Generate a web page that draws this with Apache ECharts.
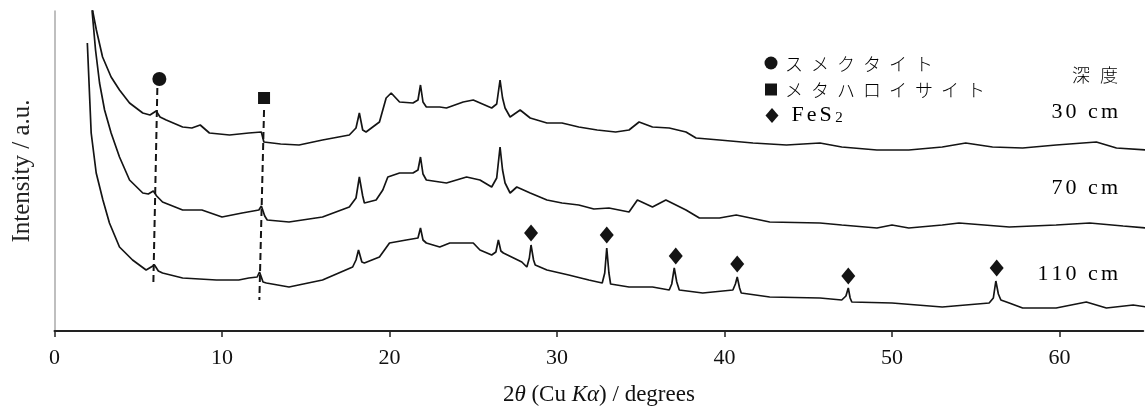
<!DOCTYPE html>
<html>
<head>
<meta charset="utf-8">
<script src="https://cdn.jsdelivr.net/npm/echarts@6/dist/echarts.min.js"></script>
<style>html,body{margin:0;padding:0;background:#fff}#c{width:1147px;height:415px}</style>
</head>
<body>
<div id="c"></div>
<script>
// ---- data (2θ in degrees, intensity in arbitrary offset units) ----
const x30 = [2.2,2.29,2.5,2.87,3.38,3.88,4.48,5.27,5.7,6.07,6.3,6.67,7.65,8.2,8.7,9.25,10.45,11.6,12.35,12.5,13.5,14.6,16.0,17.6,18.0,18.2,18.4,18.6,19.4,19.8,20.1,20.6,21.4,21.7,21.85,22.0,22.2,23.0,23.4,24.4,25.0,26.1,26.4,26.6,26.75,26.9,27.2,27.8,28.4,29.4,30.3,31.3,32.4,33.5,34.3,34.9,35.7,36.7,37.7,38.3,39.7,41.7,43.7,45.7,47.0,49.1,51.0,53.0,54.4,56.0,57.8,59.8,62.2,63.4,65.2];
const y30 = [380,356,338,311,291,278,265,255,253,257,251,248,241,240,243,235,233,235,236,226,224,223,228,233,240,255,238,236,246,270,275,266,265,268,283,266,261,261,260,266,268,260,264,288,270,260,251,258,250,245,245,241,238,236,238,246,241,240,236,230,228,225,223,225,221,218,218,221,225,221,220,223,226,220,218];

const x70 = [2.18,2.25,2.45,2.69,2.99,3.38,3.88,4.48,5.27,5.6,5.9,6.1,6.45,7.65,8.8,10.0,11.2,12.2,12.35,12.55,12.7,14.0,16.0,17.6,18.0,18.2,18.4,18.5,19.2,19.6,19.9,20.6,21.4,21.7,21.85,22.0,22.2,23.0,23.4,24.6,25.4,26.1,26.4,26.6,26.75,26.9,27.2,27.6,28.4,29.4,30.3,31.3,32.2,33.1,34.3,34.8,35.7,36.5,37.7,38.5,39.7,40.7,42.7,45.7,47.0,49.1,50.0,51.0,53.0,54.0,57.0,59.8,61.8,63.8,65.2];
const y70 = [380,356,318,285,258,235,211,188,175,174,177,172,166,158,158,151,155,158,162,152,148,146,151,161,170,191,172,165,168,178,191,195,195,198,211,194,188,186,185,191,188,181,190,221,198,185,175,181,175,168,165,163,159,160,156,168,161,168,158,150,150,153,146,145,143,140,143,140,143,145,141,143,145,142,140];

const x110 = [1.96,2.19,2.49,2.89,3.28,3.88,4.66,5.47,5.97,6.2,6.45,7.65,9.67,11.0,11.6,12.1,12.24,12.45,12.65,14.0,16.0,17.8,18.0,18.15,18.35,18.5,19.4,20.0,21.0,21.7,21.85,22.0,22.2,23.0,23.6,25.0,25.4,26.1,26.35,26.5,26.65,26.8,27.9,28.2,28.35,28.45,28.6,28.7,29.4,30.7,31.9,32.7,32.85,32.97,33.1,33.2,34.3,35.7,36.7,36.85,37.0,37.15,37.3,38.7,40.5,40.65,40.76,40.9,41.0,42.7,45.7,47.0,47.25,47.39,47.5,47.6,50.0,53.0,55.8,56.05,56.2,56.35,56.5,57.0,57.8,59.8,61.6,62.8,64.4,65.2];
const y110 = [325,235,195,168,145,121,108,98,103,97,95,90,88,88,90,91,96,86,85,81,88,101,108,118,106,105,111,125,128,130,140,128,125,121,125,125,118,113,116,128,117,115,106,101,110,123,108,103,98,93,88,85,95,120,95,84,81,81,78,84,100,86,78,75,78,84,91,80,75,71,70,68,72,80,70,66,65,61,65,70,87,74,68,65,60,60,66,60,63,61];

// phase markers
const smectiteMark = [[6.26, 289]];
const metahalloysiteMark = [[12.51, 270]];
const fes2Marks = [[28.45, 135], [32.97, 133], [37.09, 112], [40.76, 104], [47.39, 92], [56.25, 100]];
// dashed guide lines (top, bottom)
const guide1 = [[6.14, 280], [5.90, 83]];
const guide2 = [[12.51, 258], [12.23, 68]];

const xTicks = [0, 10, 20, 30, 40, 50, 60];
const depthLabels = ['30 cm', '70 cm', '110 cm'];
const legendNames = ['スメクタイト', 'メタハロイサイト', 'FeS'];

const zip = (a, b) => a.map((v, i) => [v, b[i]]);
const serif = '"Liberation Serif", "Times New Roman", serif';
const jp = '"Noto Sans CJK JP", sans-serif';
const ink = '#141414';
const spaced = (s, key) => s.split('').map(c => '{' + key + '|' + c + '}').join('');

const chart = echarts.init(document.getElementById('c'), null, {renderer: 'canvas'});

const lineS = (name, data) => ({
  name, type: 'line', data, showSymbol: false, symbol: 'none', clip: true,
  lineStyle: {color: ink, width: 1.7}, silent: true, z: 2
});

chart.setOption({
  animation: false,
  backgroundColor: '#fff',
  grid: {left: 54.5, right: 3.75, top: 11, bottom: 84, containLabel: false},
  xAxis: {
    type: 'value', min: 0, max: 65, interval: 10,
    axisLine: {show: true, lineStyle: {color: '#222', width: 2}},
    axisTick: {show: true, length: 6, lineStyle: {color: '#222', width: 1.5}},
    axisLabel: {
      margin: 16, color: '#111', fontFamily: serif, fontSize: 22, showMaxLabel: false,
      formatter: v => (xTicks.indexOf(v) >= 0 ? String(v) : '')
    },
    splitLine: {show: false},
    name: '2{i|θ} (Cu {i|Kα}) / degrees',
    nameLocation: 'middle', nameGap: 52,
    nameTextStyle: {
      color: '#111', fontFamily: serif, fontSize: 23,
      rich: {i: {fontStyle: 'italic', fontFamily: serif, fontSize: 23, color: '#111'}}
    }
  },
  yAxis: {
    type: 'value', min: 37, max: 357,
    axisLine: {show: true, lineStyle: {color: '#aaaaaa', width: 1.5}},
    axisTick: {show: false}, axisLabel: {show: false}, splitLine: {show: false},
    name: 'Intensity / a.u.', nameLocation: 'middle', nameGap: 20,
    nameTextStyle: {color: '#222', fontFamily: serif, fontSize: 25}
  },
  series: [
    lineS('30 cm', zip(x30, y30)),
    lineS('70 cm', zip(x70, y70)),
    lineS('110 cm', zip(x110, y110)),
    {type: 'line', data: guide1, showSymbol: false, symbol: 'none', silent: true,
     lineStyle: {color: ink, width: 2, type: [7, 4]}, z: 3},
    {type: 'line', data: guide2, showSymbol: false, symbol: 'none', silent: true,
     lineStyle: {color: ink, width: 2, type: [7, 4]}, z: 3},
    {name: legendNames[0], type: 'scatter', data: smectiteMark, symbol: 'circle', symbolSize: 14,
     itemStyle: {color: ink, opacity: 1}, z: 4, silent: true},
    {name: legendNames[1], type: 'scatter', data: metahalloysiteMark, symbol: 'rect', symbolSize: 12,
     itemStyle: {color: ink, opacity: 1}, z: 4, silent: true},
    {name: 'FeS2', type: 'scatter', data: fes2Marks, symbol: 'diamond', symbolSize: [14, 17],
     itemStyle: {color: ink, opacity: 1}, z: 4, silent: true}
  ],
  graphic: [
    // legend
    {type: 'circle', shape: {cx: 771, cy: 63, r: 6.5}, style: {fill: ink}},
    {type: 'rect', shape: {x: 765, y: 83.5, width: 12, height: 12}, style: {fill: ink}},
    {type: 'polygon', shape: {points: [[772, 108], [778.5, 115.5], [772, 123], [765.5, 115.5]]}, style: {fill: ink}},
    {type: 'text', x: 781, y: 64, style: {text: spaced(legendNames[0], 'c'), verticalAlign: 'middle',
      rich: {c: {fontFamily: jp, fontSize: 18, fontWeight: 300, color: '#000', padding: [0, 4, 0, 4]}}}},
    {type: 'text', x: 781, y: 90, style: {text: spaced(legendNames[1], 'c'), verticalAlign: 'middle',
      rich: {c: {fontFamily: jp, fontSize: 18, fontWeight: 300, color: '#000', padding: [0, 4, 0, 4]}}}},
    {type: 'text', x: 790, y: 115, style: {text: spaced(legendNames[2], 'f') + '{s|2}', verticalAlign: 'middle',
      rich: {f: {fontFamily: serif, fontSize: 22, color: '#1a1a1a', padding: [0, 1.5, 0, 1.5]},
             s: {fontFamily: serif, fontSize: 15, color: '#1a1a1a', verticalAlign: 'bottom', padding: [6, 0, 0, 2]}}}},
    // depth header and labels
    {type: 'text', x: 1123, y: 75, style: {text: spaced('深度', 'c'), align: 'right', verticalAlign: 'middle',
      rich: {c: {fontFamily: jp, fontSize: 18, fontWeight: 300, color: '#000', padding: [0, 5, 0, 5]}}}},
    {type: 'text', x: 1119.5, y: 112, style: {text: spaced(depthLabels[0], 'd'), align: 'right', verticalAlign: 'middle',
      rich: {d: {fontFamily: serif, fontSize: 22, color: '#1a1a1a', padding: [0, 1.5, 0, 1.5]}}}},
    {type: 'text', x: 1119.5, y: 188, style: {text: spaced(depthLabels[1], 'd'), align: 'right', verticalAlign: 'middle',
      rich: {d: {fontFamily: serif, fontSize: 22, color: '#1a1a1a', padding: [0, 1.5, 0, 1.5]}}}},
    {type: 'text', x: 1119.5, y: 274, style: {text: spaced(depthLabels[2], 'd'), align: 'right', verticalAlign: 'middle',
      rich: {d: {fontFamily: serif, fontSize: 22, color: '#1a1a1a', padding: [0, 1.5, 0, 1.5]}}}}
  ]
});
</script>
</body>
</html>
